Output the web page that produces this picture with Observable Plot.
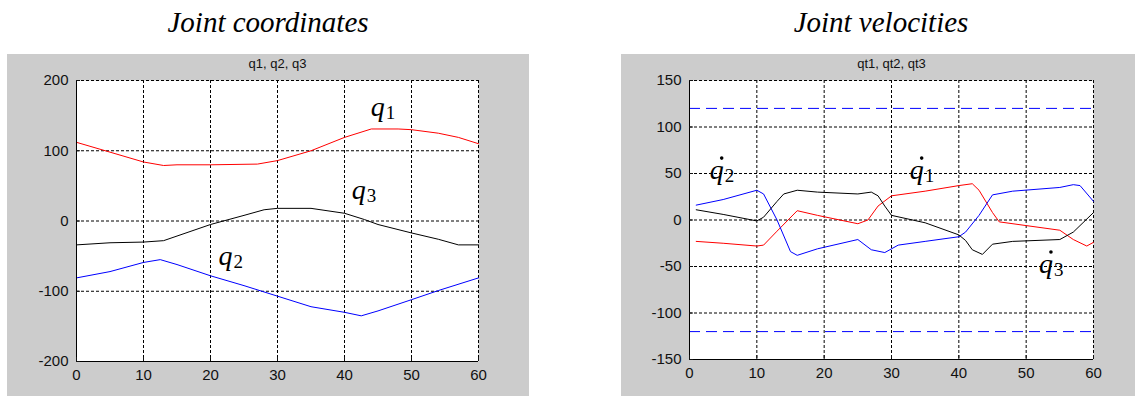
<!DOCTYPE html>
<html><head><meta charset="utf-8">
<script src="https://cdn.jsdelivr.net/npm/d3@7"></script>
<script src="https://cdn.jsdelivr.net/npm/@observablehq/plot@0.6"></script>
<style>
body{margin:0;background:#fff;width:1135px;height:396px;position:relative;overflow:hidden;font-family:"Liberation Sans",Arial,sans-serif}
.title{position:absolute;top:8px;font-family:"Liberation Serif","Times New Roman",serif;font-style:italic;font-size:29px;line-height:1;white-space:nowrap;transform:translateX(-50%);color:#000}
.panel{position:absolute;top:54px;height:342px;background:#cccccc}
.panel svg{display:block;overflow:visible}
</style></head><body>
<div class="title" style="left:268px">Joint coordinates</div>
<div class="title" style="left:881px">Joint velocities</div>
<div class="panel" id="p1" style="left:7px;width:522px"></div>
<div class="panel" id="p2" style="left:621px;width:514px"></div>
<script>
// ---- data ----
const xTicks = [0, 10, 20, 30, 40, 50, 60];
const posTicks = [-200, -100, 0, 100, 200];
const velTicks = [-150, -100, -50, 0, 50, 100, 150];
const velLimits = [120, -120];

// joint coordinates
const q1 = [[0,112],[5,98],[10,84],[13,79],[15,80],[20,80],[27,81],[30,86],[35,100],[40,119],[44,131],[48,131],[50,130],[54,125],[57,119],[60,110]];
const q2 = [[0,-81],[5,-72],[10,-59],[12.5,-55],[15,-62],[20,-78],[25,-92],[30,-107],[35,-122],[40,-130],[42.5,-135],[45,-128],[50,-112],[54,-99],[60,-81]];
const q3 = [[0,-34],[5,-31],[10,-30],[13,-28],[20,-5],[25,8],[28,16],[30,18],[35,18],[40,11],[43,2],[45,-5],[50,-17],[54,-26],[57,-34],[60,-34]];

// joint velocities
const qt1 = [[1,-23],[5,-25],[10,-28],[11,-27],[13,-12],[16,10],[19,5],[25,-4],[26.5,0],[28,15],[30,26],[35,31],[40,37],[42,39],[43,32],[45,8],[46,-2],[50,-6],[55,-11],[57,-21],[59,-28],[60,-24]];
const qt2 = [[1,16],[5,22],[10,32],[11,28],[13,0],[15,-34],[16,-38],[19,-31],[25,-21],[27,-32],[29,-35],[31,-27],[35,-23],[40,-18],[41,-13],[43,5],[45,27],[48,31],[55,35],[57,38],[58,37],[60,20]];
const qt3 = [[1,11],[5,6],[10,-1],[11,3],[13,20],[14,28],[16,32],[19,30],[25,28],[27,30],[28,26],[29,15],[30,5],[35,-3],[40,-16],[41,-22],[42,-32],[43.5,-37],[45,-26],[48,-23],[55,-21],[57,-13],[60,8]];

// curve labels: x, y (baseline), subscript, dotted
const posLabels = [
  {x: 43.9, y: 150, sub: "1", dot: false},
  {x: 21.2, y: -62, sub: "2", dot: false},
  {x: 41.1, y: 31, sub: "3", dot: false}
];
const velLabels = [
  {x: 32.7, y: 44, sub: "1", dot: true},
  {x: 3.0, y: 44, sub: "2", dot: true},
  {x: 51.9, y: -57, sub: "3", dot: true}
];

const seriesColors = {one: "#ff0000", two: "#0000ff", three: "#000000"};
const fmt = d => String(d);

function panel({width, height, ml, mr, mt, mb, yDomain, yTicks, series, limits, labels, subtitle}) {
  const grid = {stroke: "#000", strokeOpacity: 1, strokeDasharray: "3,2", strokeWidth: 1};
  const serif = "Liberation Serif, Times New Roman, serif";
  return Plot.plot({
    width, height,
    marginLeft: ml, marginRight: mr, marginTop: mt, marginBottom: mb,
    style: {background: "transparent", fontFamily: "Liberation Sans, Arial, sans-serif", fontSize: "15px", color: "#111", overflow: "visible"},
    x: {domain: [0, 60]},
    y: {domain: yDomain},
    marks: [
      Plot.frame({fill: "white", stroke: "none"}),
      Plot.gridX(xTicks, grid),
      Plot.gridY(yTicks, grid),
      Plot.ruleY(limits, {stroke: "#0000ff", strokeDasharray: "11,6", strokeWidth: 1}),
      ...series.map(s => Plot.line(s.data, {x: d => d[0], y: d => d[1], stroke: s.color, strokeWidth: 1})),
      Plot.ruleX([0], {stroke: "#000", strokeWidth: 1}),
      Plot.ruleY([yDomain[0]], {stroke: "#000", strokeWidth: 1}),
      Plot.axisX(xTicks, {tickSize: 0, tickPadding: 8, label: null, fontSize: 15, fill: "#111", tickFormat: fmt}),
      Plot.axisY(yTicks, {tickSize: 0, tickPadding: 8, label: null, fontSize: 15, fill: "#111", tickFormat: fmt}),
      Plot.axisX(xTicks, {tickSize: -4, text: null, label: null}),
      Plot.axisY(yTicks, {tickSize: -4, text: null, label: null}),
      Plot.text([subtitle], {frameAnchor: "top", lineAnchor: "bottom", dy: -13, fontSize: 13, fill: "#111", letterSpacing: "1px"}),
      Plot.text(labels, {x: "x", y: "y", text: () => "q", textAnchor: "start", lineAnchor: "bottom", fontFamily: serif, fontStyle: "italic", fontSize: 28, fill: "#000"}),
      Plot.text(labels, {x: "x", y: "y", text: "sub", textAnchor: "start", lineAnchor: "bottom", dx: 15, dy: 3, fontFamily: serif, fontSize: 19, fill: "#000"}),
      Plot.dot(labels.filter(d => d.dot), {x: "x", y: "y", dx: 12, dy: -21, r: 1.8, fill: "#000", stroke: "none"})
    ]
  });
}

document.getElementById("p1").append(panel({
  width: 522, height: 342, ml: 69, mr: 51, mt: 26, mb: 35,
  yDomain: [-200, 200], yTicks: posTicks, limits: [],
  series: [{data: q1, color: seriesColors.one}, {data: q2, color: seriesColors.two}, {data: q3, color: seriesColors.three}],
  labels: posLabels, subtitle: "q1, q2, q3"
}));
document.getElementById("p2").append(panel({
  width: 514, height: 342, ml: 68, mr: 42, mt: 26, mb: 37,
  yDomain: [-150, 150], yTicks: velTicks, limits: velLimits,
  series: [{data: qt1, color: seriesColors.one}, {data: qt2, color: seriesColors.two}, {data: qt3, color: seriesColors.three}],
  labels: velLabels, subtitle: "qt1, qt2, qt3"
}));
</script>
</body></html>
